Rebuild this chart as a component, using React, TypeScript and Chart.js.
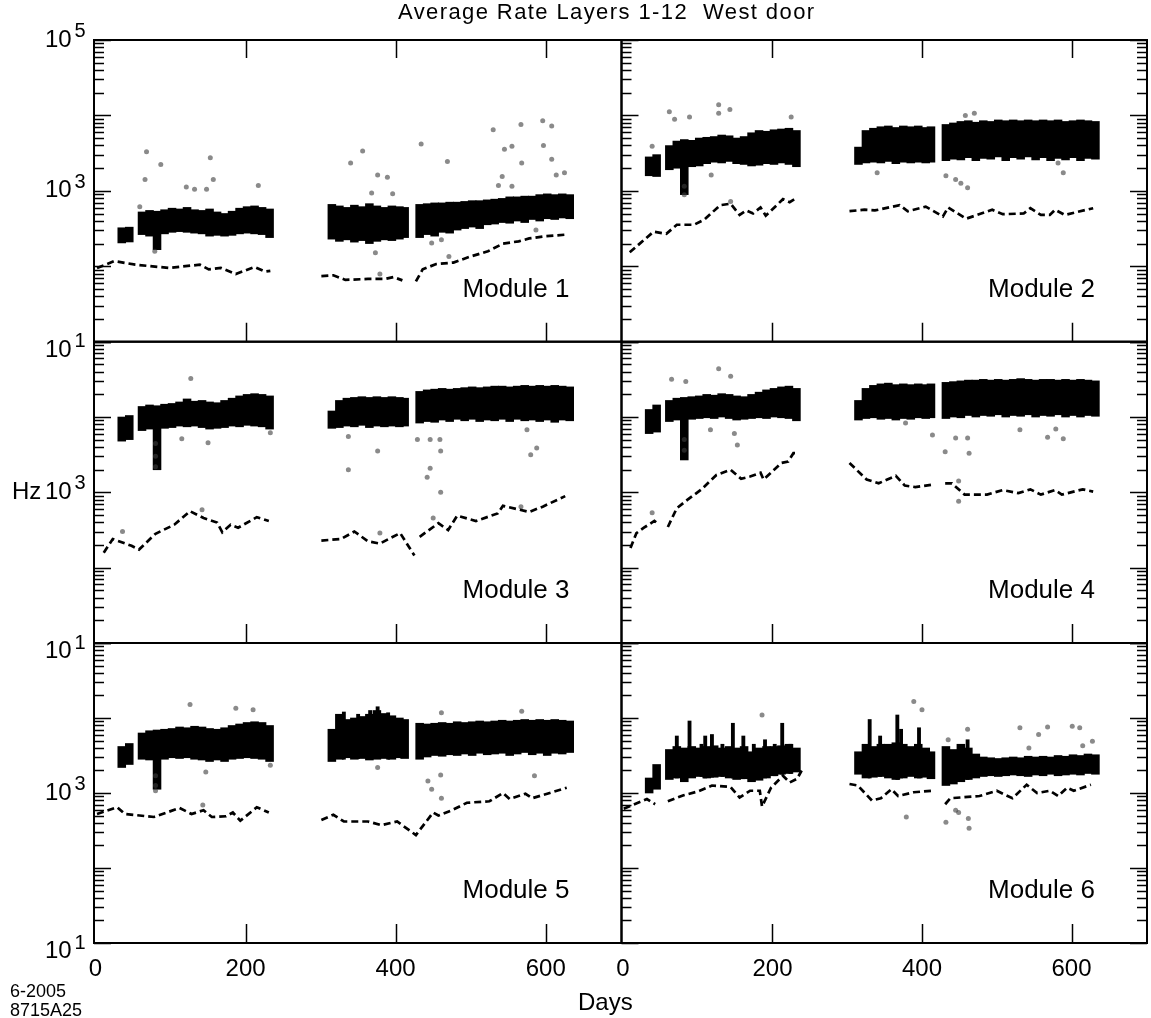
import React, { useEffect, useRef } from "react";
import { Chart, registerables } from "chart.js";

Chart.register(...registerables);

const PAGE_W = 1151;
const PAGE_H = 1018;
const FONT = '"Liberation Sans", Arial, Helvetica, sans-serif';

// ---------- axis / tick labels ----------
const yLabelValues = [100000, 1000, 10];
const yLabelExps = ["5", "3", "1"];
const xTickValues = [0, 200, 400, 600];
const xTickLabels = ["0", "200", "400", "600"];
const moduleNames = ["Module 1", "Module 2", "Module 3", "Module 4", "Module 5", "Module 6"];

// ---------- band of hourly rates: 10-day bins (day centre), low / high edge in Hz ----------
const bandDays = [35, 45,
  62, 72, 82, 92, 102, 112, 122, 132, 142, 152, 162, 172, 182, 192, 202, 212, 222, 232,
  315, 325, 335, 345, 355, 365, 375, 385, 395, 405, 412,
  432, 442, 452, 462, 472, 482, 492, 502, 512, 522, 532, 542, 552, 562, 572, 582, 592, 602, 612, 622, 632];

const low1 = [204, 210, 263, 251, 166, 269, 282, 288, 282, 275, 269, 251, 257, 251, 257, 269, 275, 269, 263, 240,
  229, 214, 224, 209, 219, 200, 214, 224, 219, 229, 240,
  240, 263, 251, 282, 275, 302, 316, 331, 316, 355, 363, 380, 372, 398, 380, 417, 398, 427, 417, 437, 427];
const high1 = [324, 330, 525, 550, 537, 562, 589, 575, 603, 562, 550, 575, 525, 501, 537, 589, 617, 631, 603, 575,
  661, 631, 603, 646, 617, 676, 631, 603, 631, 617, 603,
  661, 676, 692, 692, 708, 708, 724, 741, 741, 759, 776, 794, 832, 832, 851, 851, 891, 912, 891, 912, 891];

const low2 = [1585, 1549, 1905, 1995, 891, 2089, 2138, 2291, 2399, 2344, 2455, 2291, 2239, 2138, 2188, 2291, 2239, 2344, 2239, 2089,
  2239, 2344, 2399, 2344, 2455, 2291, 2399, 2344, 2399, 2344, 2399,
  2512, 2630, 2570, 2754, 2512, 2692, 2630, 2818, 2512, 2754, 2630, 2818, 2570, 2754, 2512, 2692, 2570, 2754, 2512, 2692, 2630];
const high2 = [2818, 3020, 3981, 4571, 4786, 4677, 5012, 5129, 5248, 5495, 5370, 5012, 5248, 5888, 6310, 6166, 6457, 6607, 6761, 6310,
  3802, 6310, 6761, 7079, 7244, 6918, 7244, 7079, 7244, 6918, 7079,
  7586, 7943, 8318, 8511, 8128, 8511, 8318, 8710, 8511, 8710, 8511, 8710, 8511, 8710, 8511, 8710, 8318, 8511, 8710, 8511, 8318];

const low3 = [4786, 5012, 6607, 6918, 1995, 7079, 7244, 7586, 7413, 7586, 7244, 6918, 7079, 7244, 7586, 7413, 7762, 7586, 7413, 6918,
  7079, 7244, 7586, 7413, 7762, 7244, 7586, 7413, 7586, 7413, 7586,
  8318, 8710, 8511, 9120, 8710, 9333, 8913, 9333, 8710, 9120, 8913, 9333, 8710, 9333, 8913, 9120, 8710, 9120, 8511, 9120, 8913];
const high3 = [10000, 10471, 13804, 14454, 14125, 14791, 15136, 15849, 17378, 16218, 16596, 15849, 15488, 16596, 17783, 19055, 19953, 20417, 19953, 19055,
  12023, 16596, 17783, 18197, 18621, 18197, 18621, 18197, 18621, 18197, 17783,
  21878, 22909, 23442, 23988, 23442, 23988, 24547, 25119, 24547, 25119, 25704, 25704, 25119, 25704, 26303, 25704, 26303, 25704, 26303, 25704, 25119];

const low4 = [6026, 6310, 8710, 9120, 2692, 9333, 9550, 9772, 9550, 10000, 9550, 9120, 9333, 9550, 9772, 9550, 10000, 9772, 9550, 8913,
  9120, 9550, 9772, 9333, 9550, 9120, 9550, 9333, 9772, 9550, 9772,
  9550, 10000, 9772, 10471, 10000, 10471, 10233, 10715, 10000, 10471, 10233, 10715, 10000, 10471, 10233, 10715, 10000, 10471, 10000, 10471, 10233];
const high4 = [12589, 14454, 16596, 17783, 18197, 18621, 19055, 19953, 19498, 20417, 19953, 19055, 18621, 19953, 21380, 22909, 23988, 25119, 25704, 23988,
  16596, 23988, 26303, 27542, 28184, 26915, 27542, 26915, 27542, 26915, 27542,
  28840, 29512, 30200, 30903, 30903, 31623, 30903, 31623, 30903, 31623, 32359, 31623, 30903, 31623, 31623, 30903, 31623, 30903, 31623, 30903, 30200];

const low5 = [2188, 2399, 2818, 2754, 1122, 2818, 2951, 2884, 2951, 2818, 2754, 2630, 2754, 2630, 2818, 2884, 2951, 2884, 2818, 2630,
  2630, 2818, 2951, 2818, 2884, 2754, 2818, 2884, 2818, 2951, 2884,
  2818, 3020, 3162, 3090, 3236, 3162, 3311, 3162, 3388, 3236, 3311, 3388, 3162, 3311, 3467, 3236, 3388, 3162, 3388, 3311, 3467];
const high5 = [4169, 4571, 6310, 6761, 6918, 7079, 7244, 7586, 7413, 7762, 7586, 7244, 7079, 7413, 7943, 8318, 8710, 8913, 8710, 7943,
  7079, 11220, 9550, 10000, 10471, 11220, 12589, 11482, 10715, 10000, 9550,
  8511, 8318, 8511, 8710, 8511, 8913, 8710, 8913, 9120, 8913, 9120, 9333, 9120, 9333, 9550, 9333, 9550, 9333, 9550, 9333, 9120];

const low6 = [1000, 1122, 1514, 1585, 1413, 1585, 1660, 1585, 1622, 1660, 1585, 1514, 1549, 1413, 1479, 1585, 1698, 1778, 1820, 1905,
  1778, 1585, 1622, 1660, 1585, 1514, 1585, 1660, 1585, 1622, 1549,
  1259, 1318, 1413, 1514, 1585, 1660, 1698, 1660, 1698, 1738, 1698, 1660, 1738, 1698, 1778, 1698, 1738, 1778, 1738, 1820, 1778];
const high6 = [1585, 2399, 3802, 4169, 3981, 4169, 3981, 4169, 4266, 3981, 4169, 3981, 4169, 3548, 3981, 4169, 4169, 4266, 4467, 3981,
  3548, 4467, 4169, 4467, 4467, 4677, 4467, 4169, 4467, 3981, 3548,
  4169, 3802, 4467, 3981, 3311, 3020, 2951, 2884, 2951, 3020, 2951, 3090, 3020, 3090, 3020, 3162, 3090, 3236, 3162, 3311, 3236];

// narrow bursts above the band (Module 6)
const spikeDays6 = [72, 89, 105, 110, 119, 133, 147, 161, 175, 190, 203, 213, 224, 330, 344, 367, 372, 396, 461];
const spikeLow6 = [1585, 1622, 1660, 1585, 1622, 1660, 1585, 1549, 1513, 1585, 1698, 1778, 1820, 1585, 1660, 1514, 1585, 1585, 1514];
const spikeHigh6 = [5754, 9120, 4467, 5754, 6026, 4467, 8511, 5754, 4467, 5129, 4467, 8511, 4467, 9550, 5754, 10965, 7079, 7413, 5129];

// narrow bursts above the band (Module 5)
const spikeDays5 = [331, 350, 366, 376, 390];
const spikeLow5 = [2818, 2884, 2818, 2884, 2818];
const spikeHigh5 = [12023, 11220, 12589, 14125, 11749];

// ---------- dashed reference curve (Hz), null = break ----------
const lineDays1 = [2, 25, 53, 98, 139, 151, 167, 187, 212, 226, 233, 270, 301, 317, 333, 363, 386, 397, 409, 418, 427, 436, 454, 477, 500, 523, 543, 564, 578, 600, 628];
const lineVals1 = [95, 117, 105, 95, 105, 91, 95, 79, 98, 85, 87, null, 74, 76, 66, 68, 68, 72, 65, null, 63, 91, 107, 112, 135, 158, 200, 214, 234, 251, 263];

const lineDays2 = [9, 41, 58, 72, 95, 109, 130, 144, 156, 165, 174, 184, 191, 214, 223, 233, 270, 303, 323, 337, 370, 381, 405, 428, 435, 459, 494, 508, 536, 545, 559, 571, 578, 591, 629];
const lineVals2 = [153, 288, 269, 355, 355, 417, 646, 676, 479, 550, 501, 603, 468, 776, 708, 813, null, 537, 562, 550, 646, 537, 617, 457, 603, 427, 562, 490, 501, 589, 479, 479, 562, 479, 589];

const lineDays3 = [11, 23, 34, 48, 58, 80, 105, 126, 144, 162, 169, 180, 190, 215, 231, 270, 301, 327, 345, 363, 379, 406, 425, 428, 432, 457, 470, 482, 507, 536, 543, 578, 596, 626];
const lineVals3 = [158, 240, 219, 195, 174, 282, 372, 562, 457, 398, 295, 372, 339, 468, 417, null, 229, 240, 302, 224, 209, 288, 145, null, 257, 389, 316, 490, 417, 525, 661, 550, 646, 891];

const lineDays4 = [10, 18, 28, 42, 46, 53, 60, 72, 86, 105, 125, 144, 158, 170, 184, 188, 200, 212, 221, 228, 235, 270, 303, 326, 342, 365, 377, 391, 412, 421, 431, 440, 457, 487, 508, 529, 545, 559, 578, 587, 615, 629];
const lineVals4 = [182, 288, 339, 417, 389, null, 347, 617, 794, 1096, 1698, 1995, 1514, 1622, 1820, 1479, 1905, 2455, 2570, 3311, 3311, null, 2455, 1479, 1318, 1660, 1230, 1175, 1259, null, 1318, 1318, 933, 933, 1072, 977, 1096, 933, 1072, 933, 1096, 1023];

const lineDays5 = [2, 29, 39, 78, 112, 128, 144, 155, 174, 183, 193, 215, 231, 270, 301, 317, 331, 363, 381, 402, 427, 450, 457, 475, 495, 525, 543, 552, 573, 582, 628];
const lineVals5 = [525, 646, 525, 479, 631, 525, 589, 479, 490, 550, 427, 646, 550, null, 437, 513, 417, 417, 372, 417, 275, 550, 501, 589, 741, 776, 1000, 832, 977, 851, 1175];

const lineDays6 = [1, 32, 43, 52, 60, 81, 100, 119, 144, 156, 170, 183, 186, 198, 214, 223, 233, 239, 270, 303, 314, 333, 345, 359, 368, 389, 414, 422, 431, 438, 477, 500, 521, 540, 554, 571, 582, 594, 603, 626];
const lineVals6 = [617, 832, 708, null, 776, 933, 1047, 1259, 1202, 871, 1072, 1072, 661, 1175, 1698, 1380, 1549, 1995, null, 1318, 1259, 794, 851, 1122, 912, 1023, 1072, null, 708, 851, 912, 1072, 851, 1288, 1000, 1072, 912, 1175, 1072, 1288];

// ---------- isolated outlier readings ----------
const outDays1 = [68, 87, 66, 153, 157, 121, 132, 148, 217, 79, 59, 340, 356, 376, 389, 368, 396, 373, 379, 434, 469, 530, 567, 596, 608, 545, 555, 568, 597, 608, 614, 625, 542, 537, 555, 461, 448, 471, 587];
const outVals1 = [3311, 2239, 1413, 2754, 1413, 1122, 1047, 1047, 1175, 158, 617, 2344, 3388, 1622, 1514, 933, 912, 151, 79, 4169, 2455, 6457, 7586, 8511, 7244, 3548, 3890, 2344, 3981, 2630, 1622, 1738, 1549, 1175, 1148, 224, 204, 135, 302];

const outDays2 = [62, 69, 89, 128, 128, 143, 225, 39, 118, 144, 82, 82, 340, 432, 445, 452, 461, 458, 470, 589, 582];
const outVals2 = [11220, 8913, 9550, 13804, 10715, 12023, 9550, 3890, 1622, 724, 1148, 891, 1738, 1585, 1413, 1259, 1096, 10000, 10715, 1738, 2344];

const outDays3 = [127, 80, 80, 80, 115, 150, 233, 142, 36, 337, 337, 376, 379, 429, 446, 459, 460, 446, 442, 460, 450, 575, 580, 588, 567];
const outVals3 = [32359, 4467, 3020, 2188, 5129, 4571, 6166, 589, 302, 5495, 1995, 3548, 288, 5012, 5012, 5012, 3548, 2089, 1585, 1000, 457, 6761, 3162, 3890, 646];

const outDays4 = [128, 144, 65, 84, 117, 82, 82, 149, 153, 39, 414, 431, 445, 461, 463, 449, 449, 531, 568, 579, 589, 378];
const outVals4 = [43652, 34674, 31623, 29512, 6761, 5012, 3631, 6026, 4266, 537, 5754, 3467, 5248, 5248, 3311, 1413, 759, 6761, 5370, 6918, 5129, 8318];

const outDays5 = [126, 187, 210, 80, 80, 80, 147, 143, 233, 376, 443, 460, 448, 461, 585, 461, 568];
const outVals5 = [15136, 13490, 12882, 1698, 1259, 1072, 1905, 692, 2344, 2188, 1445, 1738, 1122, 851, 1698, 11749, 12303];

const outDays6 = [186, 389, 400, 461, 531, 568, 601, 611, 556, 543, 615, 628, 379, 432, 445, 449, 462, 463, 435];
const outVals6 = [10965, 16596, 12882, 7079, 7413, 7586, 7762, 7413, 6026, 3981, 4266, 4898, 479, 407, 589, 550, 457, 339, 5129];

// ---------- layout of the 3 x 2 grid (page pixels) ----------
const COL_EDGES = [[94, 621.5], [621.5, 1149]];
const ROW_EDGES = [[40, 341.7], [341.7, 643], [643, 943]];

const panelData: any[] = [
  { low: low1, high: high1, lineDays: lineDays1, lineVals: lineVals1, outDays: outDays1, outVals: outVals1 },
  { low: low2, high: high2, lineDays: lineDays2, lineVals: lineVals2, outDays: outDays2, outVals: outVals2 },
  { low: low3, high: high3, lineDays: lineDays3, lineVals: lineVals3, outDays: outDays3, outVals: outVals3 },
  { low: low4, high: high4, lineDays: lineDays4, lineVals: lineVals4, outDays: outDays4, outVals: outVals4 },
  { low: low5, high: high5, lineDays: lineDays5, lineVals: lineVals5, outDays: outDays5, outVals: outVals5,
    spikeDays: spikeDays5, spikeLow: spikeLow5, spikeHigh: spikeHigh5 },
  { low: low6, high: high6, lineDays: lineDays6, lineVals: lineVals6, outDays: outDays6, outVals: outVals6,
    spikeDays: spikeDays6, spikeLow: spikeLow6, spikeHigh: spikeHigh6 },
];

function makeFramePlugin(idx: number) {
  const col = idx % 2;
  const row = Math.floor(idx / 2);
  return {
    id: "frame" + idx,
    beforeDatasetDraw(chart: any, args: any) {
      const ds = chart.data.datasets[args.index];
      if (ds && ds.type === "bar") {
        chart.ctx.save();
        chart.ctx.filter = "blur(0.6px)";
      }
    },
    afterDatasetDraw(chart: any, args: any) {
      const ds = chart.data.datasets[args.index];
      if (ds && ds.type === "bar") chart.ctx.restore();
    },
    afterDatasetsDraw(chart: any) {
      const { ctx, chartArea: a } = chart;
      const xs = chart.scales.x;
      const ys = chart.scales.y;
      ctx.save();
      ctx.strokeStyle = "#000";
      ctx.fillStyle = "#000";
      ctx.lineCap = "butt";
      // y ticks (log decades + minors)
      ctx.lineWidth = 1.5;
      ctx.beginPath();
      for (let e = 1; e <= 5; e++) {
        for (let m = 1; m <= 9; m++) {
          if (e === 5 && m > 1) break;
          const v = m * Math.pow(10, e);
          const py = Math.round(ys.getPixelForValue(v)) + 0.5;
          const len = m === 1 ? 17 : 10;
          ctx.moveTo(a.left, py);
          ctx.lineTo(a.left + len, py);
          if (col === 1) {
            ctx.moveTo(a.right, py);
            ctx.lineTo(a.right - len, py);
          }
        }
      }
      // x ticks
      for (const v of xTickValues) {
        if (v === 0) continue;
        const px = Math.round(xs.getPixelForValue(v)) + 0.5;
        ctx.moveTo(px, a.bottom);
        ctx.lineTo(px, a.bottom - 19);
        if (row === 0) {
          ctx.moveTo(px, a.top);
          ctx.lineTo(px, a.top + 18);
        }
      }
      ctx.stroke();
      // frame
      ctx.lineWidth = 2;
      ctx.strokeRect(a.left, a.top, a.right - a.left, a.bottom - a.top);

      // module name
      ctx.font = `26px ${FONT}`;
      ctx.textAlign = "right";
      ctx.textBaseline = "alphabetic";
      ctx.fillText(moduleNames[idx], a.right - 52, a.bottom - 45);

      // y labels on left column
      if (col === 0) {
        ctx.textAlign = "left";
        yLabelValues.forEach((v, i) => {
          if (row > 0 && v === 100000) return;
          const py = ys.getPixelForValue(v);
          const base = py + (v === 10 ? 15 : 6.5);
          ctx.font = `24px ${FONT}`;
          ctx.fillText("10", 45, base);
          ctx.font = `20px ${FONT}`;
          ctx.fillText(yLabelExps[i], 74.5, base - 9.5);
        });
      }
      // x labels on bottom row
      if (row === 2) {
        ctx.font = `24px ${FONT}`;
        ctx.textAlign = "center";
        xTickValues.forEach((v, i) => {
          ctx.fillText(xTickLabels[i], xs.getPixelForValue(v), 976);
        });
      }
      ctx.restore();
    },
  };
}

function PanelChart({ idx }: { idx: number }) {
  const ref = useRef<HTMLCanvasElement | null>(null);
  useEffect(() => {
    const canvas = ref.current;
    if (!canvas) return;
    const col = idx % 2;
    const row = Math.floor(idx / 2);
    const [left, right] = COL_EDGES[col];
    const [top, bottom] = ROW_EDGES[row];
    const d = panelData[idx];
    const bandData = bandDays.map((x, i) => ({ x, y: [d.low[i], d.high[i]] }));
    const lineData = d.lineDays.map((x: number, i: number) => ({ x, y: d.lineVals[i] }));
    const outData = d.outDays.map((x: number, i: number) => ({ x, y: d.outVals[i] }));
    const datasets: any[] = [
      {
        type: "line",
        data: lineData,
        borderColor: "#000",
        borderWidth: 2.7,
        borderDash: [7, 4],
        pointRadius: 0,
        spanGaps: false,
        fill: false,
        tension: 0,
        order: 0,
      },
      {
        type: "scatter",
        data: outData,
        pointRadius: 2.5,
        pointBackgroundColor: "rgba(60,60,60,0.6)",
        pointBorderWidth: 0,
        order: 1,
      },
      {
        type: "bar",
        data: bandData,
        backgroundColor: "#000",
        borderWidth: 0,
        barThickness: 7.9,
        grouped: false,
        order: 2,
      },
    ];
    if (d.spikeDays) {
      datasets.push({
        type: "bar",
        data: d.spikeDays.map((x: number, i: number) => ({ x, y: [d.spikeLow[i], d.spikeHigh[i]] })),
        backgroundColor: "#000",
        borderWidth: 0,
        barThickness: 3.2,
        grouped: false,
        order: 3,
      });
    }
    const chart = new Chart(canvas, {
      type: "bar",
      data: { datasets },
      options: {
        responsive: false,
        animation: false,
        events: [],
        layout: { padding: { left, top, right: PAGE_W - right, bottom: PAGE_H - bottom } },
        scales: {
          x: { type: "linear", min: -2, max: 701, offset: false, display: false },
          y: { type: "logarithmic", min: 10, max: 100000, display: false },
        },
        plugins: { legend: { display: false }, tooltip: { enabled: false }, title: { display: false } },
      } as any,
      plugins: [makeFramePlugin(idx)],
    });
    return () => chart.destroy();
  }, [idx]);
  return (
    <canvas
      ref={ref}
      width={PAGE_W}
      height={PAGE_H}
      style={{ position: "absolute", left: 0, top: 0, width: PAGE_W, height: PAGE_H }}
    />
  );
}

const textBase: React.CSSProperties = {
  position: "absolute",
  fontFamily: FONT,
  lineHeight: 1,
  whiteSpace: "nowrap",
  color: "#000",
};

export default function App() {
  useEffect(() => {
    document.body.style.margin = "0";
  }, []);
  return (
    <div style={{ position: "absolute", left: 0, top: 0, width: PAGE_W, height: PAGE_H, background: "#fff", overflow: "hidden" }}>
      {[0, 1, 2, 3, 4, 5].map((i) => (
        <PanelChart key={i} idx={i} />
      ))}
      <div style={{ ...textBase, fontSize: 22, left: 398, top: 1, letterSpacing: 1.4 }}>
        Average Rate Layers 1-12&nbsp;&nbsp;West door
      </div>
      <div style={{ ...textBase, fontSize: 24, left: 12, top: 478.5 }}>Hz</div>
      <div style={{ ...textBase, fontSize: 24, left: 578, top: 989.5 }}>Days</div>
      <div style={{ ...textBase, fontSize: 18, left: 10, top: 982 }}>6-2005</div>
      <div style={{ ...textBase, fontSize: 18, left: 10, top: 1001 }}>8715A25</div>
    </div>
  );
}
